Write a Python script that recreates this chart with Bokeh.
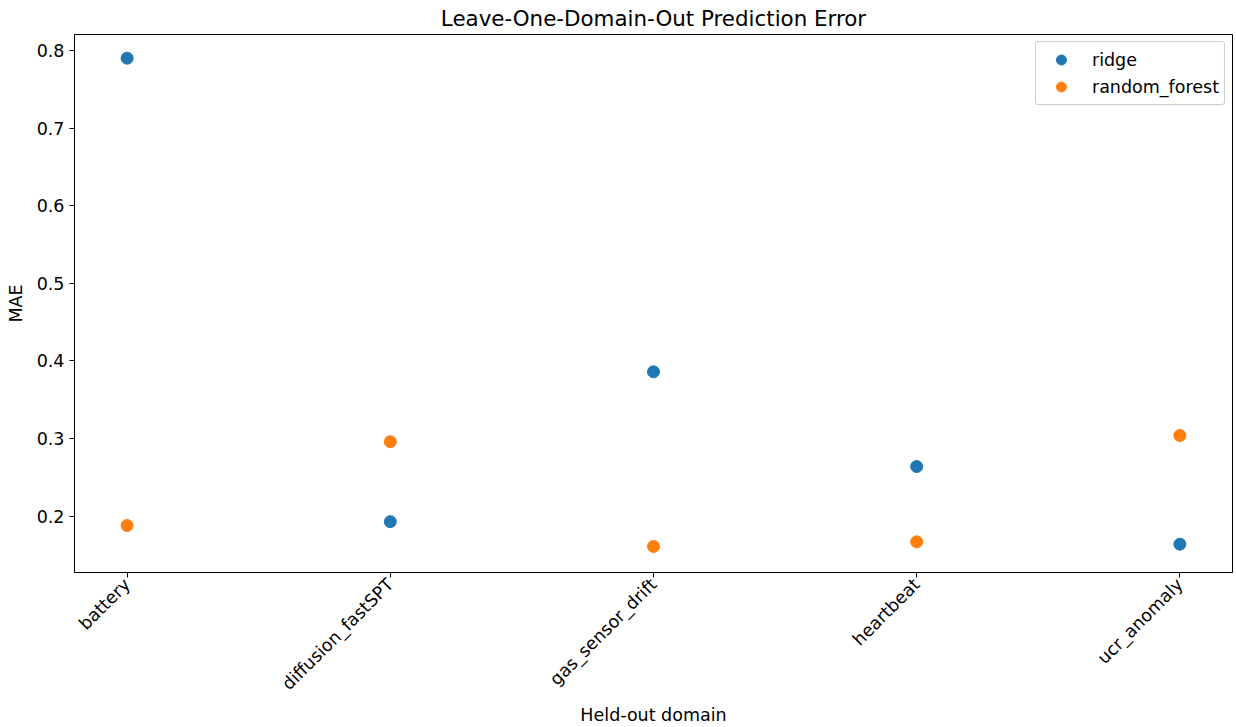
import math
from bokeh.plotting import figure
from bokeh.models import FixedTicker, Legend, LegendItem, ColumnDataSource, Range1d
from bokeh.embed import file_html
from bokeh.resources import INLINE

domains = ["battery", "diffusion_fastSPT", "gas_sensor_drift", "heartbeat", "ucr_anomaly"]
ridge = [0.790, 0.193, 0.386, 0.264, 0.164]
random_forest = [0.188, 0.296, 0.161, 0.167, 0.304]
y_ticks = [0.2, 0.3, 0.4, 0.5, 0.6, 0.7, 0.8]

FONT = "DejaVu Sans"
xs = list(range(len(domains)))

p = figure(width=1236, height=727, output_backend="svg", toolbar_location=None,
           x_range=Range1d(-0.2, len(domains) - 1 + 0.2), y_range=Range1d(0.1275, 0.8205),
           min_border_left=74, min_border_top=33, min_border_right=4, min_border_bottom=155)

p.title.text = "Leave-One-Domain-Out Prediction Error"
p.title.align = "center"
p.title.text_font = FONT
p.title.text_font_size = "21.4px"
p.title.text_font_style = "normal"
p.title.text_color = "black"
p.title.standoff = 7
p.title.offset = 0

src = ColumnDataSource(dict(x=xs, ridge=ridge, rf=random_forest))
r1 = p.scatter("x", "ridge", source=src, size=12, color="#1f77b4", line_color="#1f77b4")
r2 = p.scatter("x", "rf", source=src, size=12, color="#ff7f0e", line_color="#ff7f0e")

p.xgrid.visible = False
p.ygrid.visible = False
p.outline_line_color = "black"
p.outline_line_width = 1

p.xaxis.ticker = FixedTicker(ticks=xs)
p.xaxis.major_label_overrides = {i: d for i, d in enumerate(domains)}
p.xaxis.major_label_orientation = math.pi / 4
p.yaxis.ticker = FixedTicker(ticks=y_ticks)

for ax in (p.xaxis[0], p.yaxis[0]):
    ax.major_label_text_font = FONT
    ax.major_label_text_font_size = "17.5px"
    ax.major_label_text_color = "black"
    ax.axis_label_text_font = FONT
    ax.axis_label_text_font_size = "17.5px"
    ax.axis_label_text_font_style = "normal"
    ax.axis_label_text_color = "black"
    ax.minor_tick_line_color = None
    ax.major_tick_out = 5
    ax.major_tick_in = 0
    ax.axis_line_color = "black"
    ax.major_tick_line_color = "black"

p.xaxis.axis_label = "Held-out domain"
p.yaxis.axis_label = "MAE"
p.xaxis.major_label_standoff = 4
p.xaxis.axis_label_standoff = 1
p.yaxis.major_label_standoff = 5
p.yaxis.axis_label_standoff = 8

legend = Legend(items=[LegendItem(label="ridge", renderers=[r1]),
                       LegendItem(label="random_forest", renderers=[r2])],
                location="top_right")
legend.label_text_font = FONT
legend.label_text_font_size = "17.5px"
legend.label_text_color = "black"
legend.border_line_color = "#cccccc"
legend.border_line_alpha = 1
legend.border_radius = 3
legend.padding = 5
legend.spacing = 2
legend.margin = 7
legend.glyph_width = 40
legend.glyph_height = 25
legend.label_height = 25
legend.label_standoff = 11
p.add_layout(legend)

open("out.html", "w").write(file_html(p, INLINE))
